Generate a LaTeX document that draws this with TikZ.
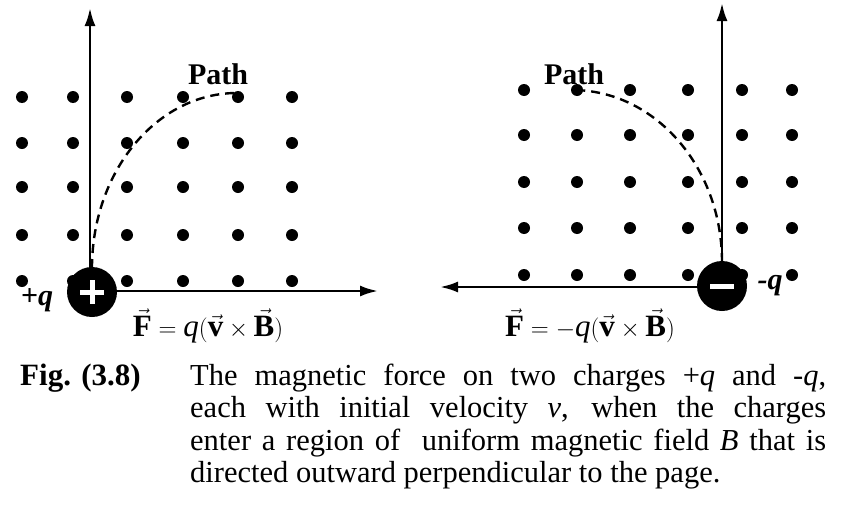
\documentclass[tikz,border=0pt]{standalone}
\usepackage{fontspec}
\setmainfont{Liberation Serif}
\usetikzlibrary{arrows.meta}
\newcommand{\vbf}[1]{\vec{\hbox{\textbf{#1}}}}
\begin{document}
\begin{tikzpicture}[x=1pt,y=-1pt,
  fdot/.style={circle,fill=black,inner sep=0pt,minimum size=12pt},
  axis/.style={line width=2.6pt,-{Latex[length=18pt,width=11pt]}},
  path/.style={line width=2.4pt,dash pattern=on 9pt off 6pt},
  chg/.style={circle,fill=black,inner sep=0pt,minimum size=50pt},
  lbl/.style={font=\fontsize{31}{34}\selectfont}]
\useasboundingbox (0,0) rectangle (850,530);
% left dots
\foreach \x in {22,73,127,183,238,292}
  \foreach \y in {97,143,187,235,281}
    \node[fdot] at (\x,\y) {};
% right dots
\foreach \x in {524,577,630,688,742,792}
  \foreach \y in {90,135,182,228,275}
    \node[fdot] at (\x,\y) {};
% left
\coordinate (lo) at (90,291);
\coordinate (ltop) at (90,8);
\coordinate (lright) at (378,291);
\draw[axis] (lo) -- (ltop);
\draw[axis] (lo) -- (lright);
\draw[path] (92,268) arc[start angle=180,end angle=270,x radius=145,y radius=175];
\node[chg] (pc) at (92,292) {};
\draw[white,line width=5pt] (80,292) -- (104,292) (92,280) -- (92,304);
\node[lbl,font=\bfseries\fontsize{30}{34}\selectfont] (pathL) at (218,74) {Path};
\node[lbl,font=\bfseries\itshape\fontsize{30}{34}\selectfont] (qL) at (37,300) {+q};
\node[lbl] (fL) at (208,326) {$\vbf{F}=\hbox{\textit{q}}\Bigl(\vbf{v}\times\vbf{B}\Bigr)$};
% right
\coordinate (ro) at (722,287);
\coordinate (rtop) at (722,3);
\coordinate (rleft) at (440,287);
\draw[axis] (ro) -- (rtop);
\draw[axis] (ro) -- (rleft);
\draw[path] (722,262) arc[start angle=0,end angle=-90,x radius=150,y radius=172];
\node[chg] (nc) at (722,286) {};
\draw[white,line width=5pt] (710,286) -- (734,286);
\node[lbl,font=\bfseries\fontsize{30}{34}\selectfont] (pathR) at (574,74) {Path};
\node[lbl,font=\bfseries\itshape\fontsize{30}{34}\selectfont] (qR) at (770,286) {-q};
\node[lbl] (fR) at (590,326) {$\vbf{F}=-\hbox{\textit{q}}\Bigl(\vbf{v}\times\vbf{B}\Bigr)$};
% caption
\node[font=\bfseries\fontsize{31}{33}\selectfont,anchor=base west,inner sep=0pt] (fig) at (20,385) {Fig. (3.8)};
\node[anchor=base west,inner sep=0pt,text width=636pt,align=justify,font=\fontsize{30.5}{32.5}\selectfont] (cap) at (190,385)
 {\hbadness=10000\hfuzz=50pt\strut The magnetic force on two charges +\textit{q} and -\textit{q},\linebreak
 each with initial velocity \textit{v}, when the charges\linebreak
 enter a region of~ uniform magnetic field \textit{B} that is\linebreak
 directed outward perpendicular to the page.};
\end{tikzpicture}
\end{document}
